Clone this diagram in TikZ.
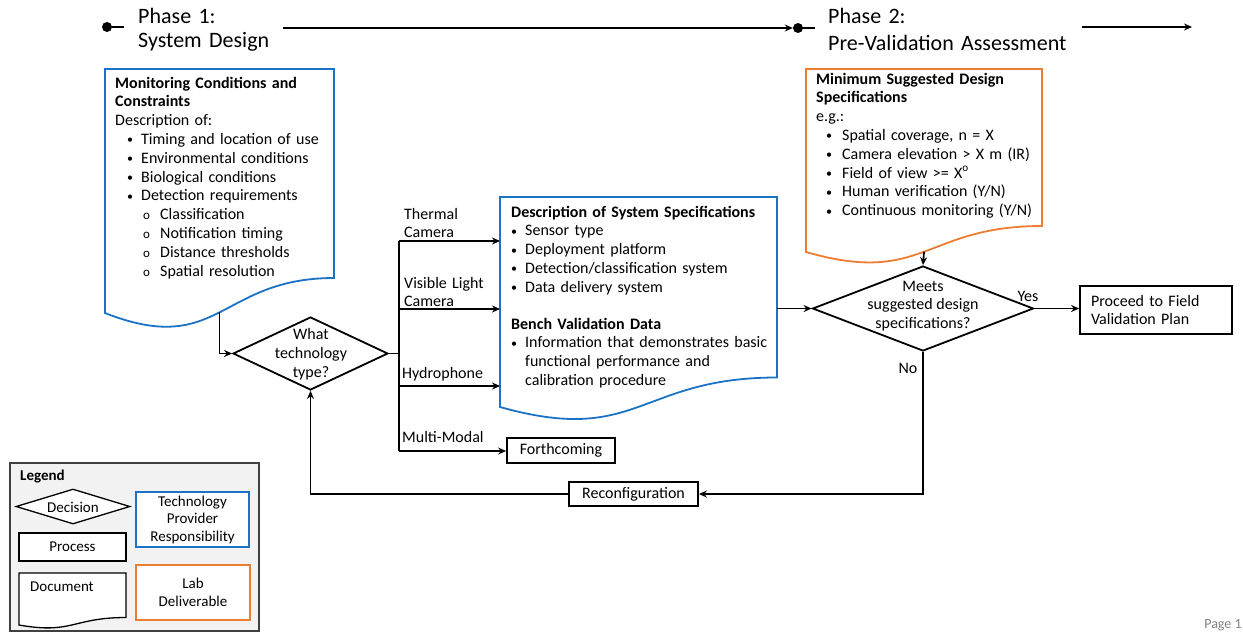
\documentclass[tikz,border=0pt]{standalone}
\usepackage{fontspec}
\setmainfont{Carlito}
\usetikzlibrary{positioning,calc,arrows.meta,shapes.geometric}
\definecolor{ProvBlue}{RGB}{28,114,196}
\definecolor{LabOrange}{RGB}{237,125,49}
\definecolor{LegGray}{RGB}{242,242,242}
\definecolor{LegEdge}{RGB}{64,64,64}
\newcommand{\dotmark}{\raisebox{0.6pt}{\fontsize{12}{12}\selectfont\textbullet}}
\newcommand{\bt}{\makebox[14pt][l]{\dotmark}}
\newcommand{\sbt}{\hspace*{28pt}\makebox[17pt][l]{\fontsize{13}{13}\selectfont o}}
\tikzset{
  wire/.style={draw=black,line width=1.8pt},
  conn/.style={wire,-{Stealth[length=8pt,width=7pt]}},
  dot/.style={circle,fill=black,inner sep=0pt,minimum size=10pt},
  dec/.style={diamond,draw=black,line width=1.8pt,fill=white,inner sep=0pt},
  proc/.style={draw=black,line width=1.8pt,fill=white,inner sep=0pt,
    font=\fontsize{16}{18.8}\selectfont},
  docline/.style={line width=1.8pt,fill=white},
  doctext/.style={anchor=base west,inner sep=0pt,align=left,
    font=\fontsize{16}{18.8}\selectfont},
  lbl/.style={inner sep=0pt,align=center,font=\fontsize{16}{18.8}\selectfont},
  phase/.style={anchor=base west,inner sep=0pt,align=left,text width=260pt},
  legtext/.style={inner sep=0pt,align=center,font=\fontsize{15}{17.5}\selectfont},
}
\begin{document}
\begin{tikzpicture}[x=1pt,y=-1pt]
\useasboundingbox (0,0) rectangle (1243,633);

% phases along the top
\node[dot] (p1dot) at (107,27) {};
\coordinate (p1tail) at (124,27);
\draw[wire] (p1dot) -- (p1tail);
\node[phase,font=\fontsize{22}{24}\selectfont] (ph1) at (138,23) {Phase 1:\\System Design};
\node[dot] (p2dot) at (798,28) {};
\coordinate (p2tail) at (815,28);
\coordinate (a1start) at (283,28);
\draw[conn] (a1start) -- (p2dot.west);
\draw[wire] (p2dot) -- (p2tail);
\node[phase,font=\fontsize{22}{27}\selectfont] (ph2) at (828,23) {Phase 2:\\Pre-Validation Assessment};
\coordinate (a2start) at (1082,27);
\coordinate (a2end) at (1192,27);
\draw[conn] (a2start) -- (a2end);

% monitoring conditions (provider document)
\coordinate (condNW) at (105,69);
\draw[docline,draw=ProvBlue] (condNW) -- (334,69) -- (334,278)
  .. controls (219.5,278) and (219.5,358) .. coordinate[pos=0.5] (condfoot) (105,313) -- cycle;
\node[doctext,text width=225pt] (cond) at (115,88) {\textbf{Monitoring Conditions and}\\
  \textbf{Constraints}\\
  Description of:\\
  \hspace*{12pt}\bt Timing and location of use\\
  \hspace*{12pt}\bt Environmental conditions\\
  \hspace*{12pt}\bt Biological conditions\\
  \hspace*{12pt}\bt Detection requirements\\
  \sbt Classification\\
  \sbt Notification timing\\
  \sbt Distance thresholds\\
  \sbt Spatial resolution};

% technology decision
\node[dec,minimum width=155pt,minimum height=73pt] (tech) at (310.5,353.5) {};
\node[lbl] (techq) at (311,354) {What\\technology\\type?};
\draw[conn] (condfoot) |- (tech.west);

% system specifications (provider document)
\coordinate (specNW) at (500,197);
\draw[docline,draw=ProvBlue] (specNW) -- (777,197) -- (777,377.5)
  .. controls (638.5,377.5) and (638.5,446) .. (500,407) -- cycle;
\node[doctext,text width=275pt] (spec) at (511,217) {\textbf{Description of System Specifications}\\
  \bt Sensor type\\
  \bt Deployment platform\\
  \bt Detection/classification system\\
  \bt Data delivery system\\[18pt]
  \textbf{Bench Validation Data}\\
  \bt Information that demonstrates basic\\
  \hspace*{14pt}functional performance and\\
  \hspace*{14pt}calibration procedure};

% branches per technology
\coordinate (bustop) at (399,241);
\coordinate (busvis) at (399,309);
\coordinate (bushyd) at (399,386);
\coordinate (busbot) at (399,451);
\draw[wire] (tech.east) -- (tech.east -| bustop);
\draw[wire] (bustop) -- (busbot);
\draw[conn] (bustop) -- (bustop -| specNW);
\draw[conn] (busvis) -- (busvis -| specNW);
\draw[conn] (bushyd) -- (bushyd -| specNW);
\node[proc,minimum width=108pt,minimum height=25pt] (forth) at (561,450.5) {Forthcoming};
\draw[conn] (busbot) -- (busbot -| forth.west);
\node[doctext,text width=110pt] (lthermal) at (404,219) {Thermal\\Camera};
\node[doctext,text width=110pt] (lvisible) at (404,288) {Visible Light\\Camera};
\node[doctext,text width=110pt] (lhydro) at (402,378) {Hydrophone};
\node[doctext,text width=110pt] (lmulti) at (402,442) {Multi-Modal};

% minimum specifications (lab document)
\coordinate (minNW) at (806,69);
\draw[docline,draw=LabOrange] (minNW) -- (1042,69) -- (1042,226)
  .. controls (924,226) and (924,286) .. coordinate[pos=0.5] (minfoot) (806,252) -- cycle;
\node[doctext,text width=230pt] (minspec) at (816,84) {\textbf{Minimum Suggested Design}\\
  \textbf{Specifications}\\
  e.g.:\\
  \hspace*{10pt}\makebox[16pt][l]{\dotmark}Spatial coverage, n = X\\
  \hspace*{10pt}\makebox[16pt][l]{\dotmark}Camera elevation > X m (IR)\\
  \hspace*{10pt}\makebox[16pt][l]{\dotmark}Field of view >= X\textsuperscript{o}\\
  \hspace*{10pt}\makebox[16pt][l]{\dotmark}Human verification (Y/N)\\
  \hspace*{10pt}\makebox[16pt][l]{\dotmark}Continuous monitoring (Y/N)};

% design check
\node[dec,minimum width=221pt,minimum height=85pt] (meets) at (923,308.5) {};
\node[lbl] (meetsq) at (923,306) {Meets\\suggested design\\specifications?};
\coordinate (specE) at (777,308.5);
\draw[conn] (specE) -- (meets.west);
\draw[conn] (minfoot) -- (meets.north);
\node[proc,text width=130pt,align=left,inner xsep=11pt,minimum height=48pt] (field) at (1156,310)
  {Proceed to Field\\Validation Plan};
\draw[conn] (meets.east) -- (meets.east -| field.west);
\node[lbl] (yes) at (1028,296) {Yes};
\node[lbl] (no) at (908,368) {No};
\node[proc,minimum width=129pt,minimum height=24pt] (reconf) at (633.5,494) {Reconfiguration};
\draw[conn] (meets.south) |- (reconf.east);
\draw[conn] (reconf.west) -| (tech.south);

% legend
\node[draw=LegEdge,fill=LegGray,line width=1.6pt,minimum width=249pt,minimum height=168pt,inner sep=0pt]
  (legend) at (134.5,547) {};
\node[doctext,font=\fontsize{15}{17.5}\selectfont] (legtitle) at (20,480) {\textbf{Legend}};
\node[dec,line width=1.3pt,minimum width=114pt,minimum height=35pt] (ldec) at (73,506.5) {};
\node[legtext] (ldectxt) at (73,507) {Decision};
\node[proc,line width=1.3pt,minimum width=107pt,minimum height=28pt,font=\fontsize{15}{17.5}\selectfont]
  (lproc) at (72.5,547) {Process};
\coordinate (ldocNW) at (19,573);
\draw[line width=1.3pt,fill=white] (ldocNW) -- (126,573) -- (126,617.5)
  .. controls (72.5,617.5) and (72.5,634.5) .. (19,625) -- cycle;
\node[doctext,font=\fontsize{15}{17.5}\selectfont] (ldoc) at (30,591) {Document};
\node[draw=ProvBlue,fill=white,line width=1.3pt,minimum width=113pt,minimum height=55pt,legtext]
  (lprov) at (192.5,519.5) {Technology\\Provider\\Responsibility};
\node[draw=LabOrange,fill=white,line width=1.3pt,minimum width=114pt,minimum height=55pt,legtext]
  (llab) at (193,592.5) {Lab\\Deliverable};

\node[inner sep=0pt,text=black!50,font=\fontsize{14}{14}\selectfont] (page) at (1223,625) {Page 1};
\end{tikzpicture}
\end{document}
